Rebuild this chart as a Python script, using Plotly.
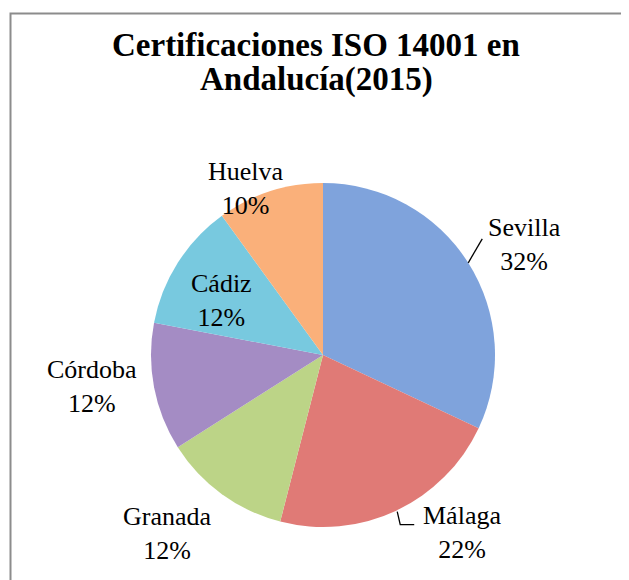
import math
import plotly.graph_objects as go

labels = ["Sevilla", "Málaga", "Granada", "Córdoba", "Cádiz", "Huelva"]
values = [32, 22, 12, 12, 12, 10]
colors = ["#7fa3dc", "#e07a76", "#bcd487", "#a48cc4", "#78c9df", "#fab07a"]
title_lines = ["Certificaciones ISO 14001 en", "Andalucía(2015)"]

# label placement (styling): radius factor of the anchor point on the slice's
# middle angle, then pixel offset of the label block from that anchor
label_radius = [1.0, 1.0, 1.0, 1.0, 0.6, 1.0]
label_offset = [(56, -18), (66, 22), (-54, 39), (-62, -1), (-14, 1), (-24, -3)]

# the page body has an 8px margin, so the figure is drawn 8px in from the window edge
OFF = 8
W, H = 629 - OFF, 580 - OFF
cx, cy, r = 323 - OFF, 355 - OFF, 172


def px(x):
    return x / W


def py(y):
    return 1 - y / H


fig = go.Figure(go.Pie(
    labels=labels, values=values, sort=False, direction="clockwise", rotation=0,
    marker=dict(colors=colors, line=dict(width=0)),
    textinfo="none",
    domain=dict(x=[px(cx - r), px(cx + r)], y=[py(cy + r), py(cy - r)]),
    showlegend=False, hoverinfo="label+percent",
))

total = sum(values)
annotations = []
anchors = []
cum = 0
for lab, v, k, (dx, dy) in zip(labels, values, label_radius, label_offset):
    theta = math.radians((cum + v / 2) / total * 360)
    cum += v
    ax_ = cx + k * r * math.sin(theta)
    ay_ = cy - k * r * math.cos(theta)
    anchors.append((ax_, ay_))
    annotations.append(dict(
        text="%s<br>%d%%" % (lab, round(v / total * 100)),
        x=px(ax_ + dx), y=py(ay_ + dy), xref="paper", yref="paper",
        xanchor="center", yanchor="middle", showarrow=False,
        font=dict(family="Liberation Serif", size=26, color="black"),
    ))

title_y = [45 - OFF, 79 - OFF]
for t, ty in zip(title_lines, title_y):
    annotations.append(dict(
        text="<b>%s</b>" % t, x=px(316 - OFF), y=py(ty), xref="paper", yref="paper",
        xanchor="center", yanchor="middle", showarrow=False,
        font=dict(family="Liberation Serif", size=33, color="black"),
    ))

# leader lines for Sevilla and Málaga
sx, sy = anchors[0]
mx, my = anchors[1]
leaders = [
    dict(type="path", xref="paper", yref="paper",
         path="M %f %f L %f %f" % (px(sx), py(sy), px(sx + 14), py(sy - 24)),
         line=dict(color="black", width=1.3)),
    dict(type="path", xref="paper", yref="paper",
         path="M %f %f L %f %f L %f %f" % (px(mx + 1), py(my + 1), px(mx + 4), py(my + 14),
                                           px(mx + 18), py(my + 14)),
         line=dict(color="black", width=1.3)),
]

fig.update_layout(
    width=W, height=H,
    margin=dict(l=0, r=0, t=0, b=0),
    paper_bgcolor="white", plot_bgcolor="white",
    annotations=annotations,
    shapes=[dict(type="rect", xref="paper", yref="paper",
                 x0=px(10.5 - OFF), x1=1.05, y0=-0.05, y1=py(13.5 - OFF),
                 line=dict(color="#8c8c8c", width=2))] + leaders,
)

fig.write_html("out.html")
